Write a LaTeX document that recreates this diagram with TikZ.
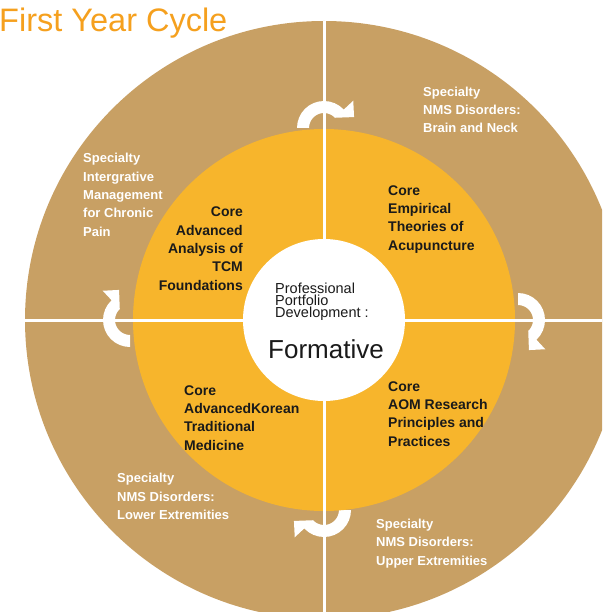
\documentclass[tikz,border=0pt]{standalone}
\usepackage{fontspec}
\setmainfont{Liberation Sans}
\definecolor{tanc}{HTML}{C8A064}
\definecolor{orangec}{HTML}{F7B52C}
\definecolor{titlec}{HTML}{F5A01E}
\definecolor{coretext}{HTML}{1A1A1A}
\tikzset{
  spec/.style={font=\fontsize{13}{18.3}\selectfont\bfseries, text=white, align=left, anchor=base west, inner sep=0pt},
  corel/.style={font=\fontsize{14}{18.3}\selectfont\bfseries, text=coretext, align=left, anchor=base west, inner sep=0pt},
  corer/.style={font=\fontsize{14}{18.3}\selectfont\bfseries, text=coretext, align=right, anchor=base east, inner sep=0pt},
  divider/.style={white, line width=3pt},
  cyclearrowfill/.style={fill=white},
}
\newcommand\cyclearrow[2]{%
  \begin{scope}[shift={#1}, rotate=#2]
    \fill[cyclearrowfill] (180:27pt) arc[start angle=180, end angle=43, radius=27pt]
      -- (43:40pt) -- (20:32pt) -- (43:15pt)
      arc[start angle=43, end angle=180, radius=15pt] -- cycle;
  \end{scope}}
\begin{document}
\begin{tikzpicture}[x=1pt, y=-1pt]
  \useasboundingbox (0,0) rectangle (602,612);
  \clip (0,0) rectangle (602,612);
  \coordinate (c) at (324,320);
  % outer ring
  \fill[tanc] (c) circle[radius=299pt];
  % cycle arrows
  \cyclearrow{(324,128)}{0}
  \cyclearrow{(518,320)}{-90}
  \cyclearrow{(324,510)}{-180}
  \cyclearrow{(130,320)}{90}
  % inner ring
  \fill[orangec] (c) circle[radius=191pt];
  % dividers
  \begin{scope}
    \clip (c) circle[radius=299pt];
    \draw[divider] (324,0) -- (324,612);
    \draw[divider] (0,320) -- (602,320);
  \end{scope}
  % centre
  \fill[white] (c) circle[radius=81pt];
  \node[anchor=base west, inner sep=0pt, align=left, font=\fontsize{14.5}{12}\selectfont, text=coretext] (ppd) at (275,317) {Professional\\Portfolio\\Development :};
  \node[anchor=base, inner sep=0pt, font=\fontsize{26}{30}\selectfont, text=coretext] (form) at (326,358) {Formative};
  % title
  \node[anchor=base west, inner sep=0pt, font=\fontsize{32.5}{36}\selectfont, text=titlec] (title) at (-1,32) {First Year Cycle};
  % core texts (anchored at last baseline)
  \node[corer] (core1) at (243,290) {Core\\Advanced\\Analysis of\\TCM\\Foundations};
  \node[corel] (core2) at (388,250) {Core\\Empirical\\Theories of\\Acupuncture};
  \node[corel] (core3) at (388,446) {Core\\AOM Research\\Principles and\\Practices};
  \node[corel] (core4) at (184,450) {Core\\AdvancedKorean\\Traditional\\Medicine};
  % specialty texts
  \node[spec] (spec1) at (83,236) {Specialty\\Intergrative\\Management\\for Chronic\\Pain};
  \node[spec] (spec2) at (423,133) {Specialty\\NMS Disorders:\\Brain and Neck};
  \node[spec] (spec3) at (376,565) {Specialty\\NMS Disorders:\\Upper Extremities};
  \node[spec] (spec4) at (117,519.5) {Specialty\\NMS Disorders:\\Lower Extremities};
\end{tikzpicture}
\end{document}
